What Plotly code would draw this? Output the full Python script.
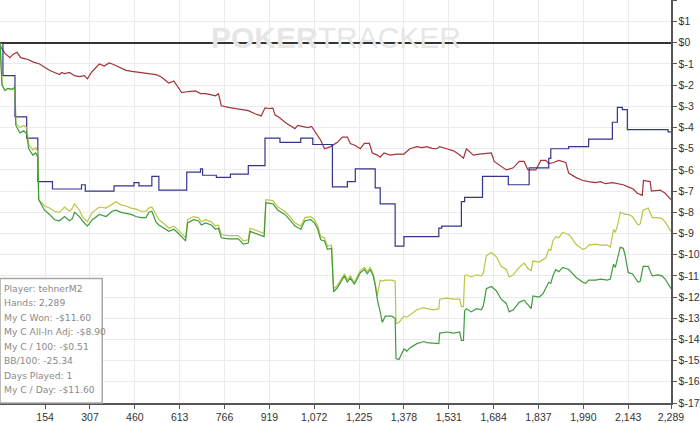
import plotly.graph_objects as go

# ---------------- data (hands, $ values) ----------------
x_ticks = [154, 307, 460, 613, 766, 919, 1072, 1225, 1378, 1531, 1684, 1837, 1990, 2143, 2289]
x_tick_labels = ["154", "307", "460", "613", "766", "919", "1,072", "1,225", "1,378",
                 "1,531", "1,684", "1,837", "1,990", "2,143", "2,289"]
y_ticks = list(range(-17, 3))
y_tick_labels = ["$" + str(v) for v in y_ticks]

# Non-showdown winnings (red)
red_hands = [0, 3, 17, 34, 44, 58, 71, 85, 98, 112, 135, 152, 169, 186, 203, 210, 220, 237, 254, 271,
             288, 298, 312, 325, 339, 356, 372, 383, 406, 430, 450, 474, 501, 532, 549, 565, 576, 593,
             609, 620, 643, 667, 684, 701, 718, 735, 745, 755, 779, 802, 826, 847, 870, 891, 904, 918,
             931, 938, 955, 972, 989, 1006, 1016, 1033, 1050, 1063, 1073, 1094, 1107, 1128, 1151, 1168,
             1185, 1195, 1212, 1229, 1243, 1260, 1270, 1287, 1297, 1310, 1331, 1354, 1378, 1398, 1422,
             1439, 1456, 1473, 1490, 1500, 1524, 1547, 1564, 1581, 1591, 1615, 1635, 1659, 1676, 1686,
             1710, 1727, 1751, 1771, 1788, 1801, 1828, 1845, 1862, 1872, 1889, 1906, 1930, 1940, 1964,
             1988, 2008, 2032, 2049, 2065, 2089, 2109, 2126, 2143, 2160, 2174, 2191, 2195, 2218, 2222,
             2242, 2252, 2269, 2289]
red_vals = [0, -0.2, -0.5, -0.7, -0.55, -0.45, -0.7, -0.75, -0.8, -0.9, -1.0, -1.15, -1.3, -1.4, -1.5,
            -1.4, -1.45, -1.4, -1.55, -1.6, -1.55, -1.7, -1.4, -1.2, -1.0, -1.1, -0.95, -1.0, -1.15, -1.3,
            -1.35, -1.4, -1.45, -1.5, -1.6, -1.8, -1.9, -1.8, -2.1, -2.35, -2.3, -2.27, -2.4, -2.4, -2.45,
            -2.5, -2.4, -2.97, -3.05, -3.1, -3.15, -3.2, -3.35, -3.45, -3.07, -3.1, -3.08, -3.4, -3.55,
            -3.75, -3.9, -4.05, -3.9, -3.95, -4.0, -3.95, -4.15, -4.6, -5.0, -4.9, -4.7, -4.45, -4.45,
            -4.75, -4.85, -5.0, -4.75, -4.75, -5.2, -5.3, -5.4, -5.2, -5.3, -5.25, -5.25, -5.0, -4.9,
            -4.95, -4.9, -4.98, -5.0, -4.9, -5.0, -5.1, -5.25, -5.45, -5.0, -5.3, -5.25, -5.2, -5.2,
            -5.6, -5.85, -6.0, -5.9, -5.6, -5.6, -6.0, -6.0, -5.55, -5.55, -5.7, -5.65, -5.55, -5.65,
            -6.15, -6.35, -6.5, -6.55, -6.6, -6.55, -6.65, -6.6, -6.65, -6.7, -6.8, -6.9, -7.1, -7.2,
            -6.5, -6.55, -7.0, -6.95, -6.95, -7.1, -7.4]

# Showdown winnings (blue, step-like)
blue_hands = [0, 10, 51, 91, 129, 179, 278, 291, 389, 457, 474, 518, 542, 637, 684, 691, 738, 786, 847,
              904, 955, 1026, 1067, 1134, 1185, 1212, 1280, 1297, 1348, 1378, 1497, 1507, 1574, 1585,
              1646, 1734, 1805, 1872, 1879, 1940, 2008, 2089, 2106, 2123, 2140, 2279, 2289]
blue_vals = [0, -1.55, -3.5, -4.5, -6.55, -6.9, -6.7, -7.0, -6.75, -6.6, -6.75, -6.3, -6.95, -6.1, -5.95,
             -6.25, -6.35, -6.2, -5.8, -4.5, -4.7, -4.5, -4.8, -6.8, -6.55, -5.95, -6.85, -7.6, -9.6,
             -9.15, -8.75, -8.65, -7.5, -7.3, -6.3, -6.7, -5.9, -5.45, -5.0, -4.9, -4.55, -3.75, -3.05,
             -3.15, -4.1, -4.2, -4.2]

# Net won (green) and all-in adjusted (yellow), read at the same hands
net_hands = [0, 7, 17, 27, 41, 51, 54, 68, 81, 91, 98, 112, 122, 129, 132, 152, 169, 186, 203, 220, 237,
             247, 254, 271, 281, 298, 315, 339, 362, 383, 396, 413, 430, 447, 464, 481, 498, 508, 518,
             532, 542, 565, 576, 593, 609, 633, 640, 660, 677, 687, 701, 721, 735, 745, 755, 779, 813,
             830, 847, 853, 870, 891, 901, 907, 931, 948, 972, 992, 1006, 1026, 1040, 1060, 1073, 1084,
             1094, 1107, 1117, 1131, 1138, 1151, 1161, 1175, 1185, 1195, 1209, 1229, 1243, 1253, 1263,
             1273, 1280, 1287, 1297, 1304, 1314, 1337, 1348, 1351, 1361, 1378, 1388, 1398, 1422, 1446,
             1456, 1480, 1497, 1500, 1524, 1547, 1568, 1574, 1581, 1585, 1591, 1608, 1625, 1642, 1649,
             1659, 1676, 1693, 1710, 1727, 1737, 1751, 1771, 1788, 1801, 1812, 1818, 1839, 1852, 1862,
             1872, 1879, 1886, 1896, 1906, 1920, 1930, 1940, 1947, 1964, 1988, 1998, 2008, 2032, 2049,
             2072, 2082, 2093, 2099, 2106, 2116, 2126, 2133, 2143, 2157, 2177, 2184, 2194, 2211, 2225,
             2245, 2258, 2269, 2289]
green_vals = [0, -2.0, -2.25, -2.15, -2.2, -2.1, -3.9, -4.25, -4.15, -4.3, -5.0, -5.3, -5.2, -5.4, -7.4,
              -7.9, -8.1, -8.35, -8.4, -8.2, -8.4, -8.3, -8.0, -8.2, -8.4, -8.65, -8.35, -8.1, -8.2,
              -7.95, -7.9, -8.0, -8.05, -8.1, -8.2, -8.25, -8.25, -8.0, -7.95, -8.45, -8.6, -8.8, -8.9,
              -8.8, -9.0, -9.35, -8.5, -8.35, -8.4, -8.6, -8.5, -8.6, -8.8, -8.75, -9.2, -9.25, -9.25,
              -9.5, -9.45, -8.9, -9.0, -9.1, -9.15, -7.55, -7.6, -7.9, -8.1, -8.4, -8.65, -8.8, -8.4,
              -8.35, -8.5, -8.8, -9.3, -9.35, -9.75, -9.7, -11.75, -11.55, -11.3, -11.0, -11.3, -11.1,
              -11.4, -10.85, -10.7, -10.9, -10.7, -11.0, -11.45, -12.1, -12.7, -13.2, -12.9, -12.9,
              -13.0, -14.9, -14.95, -14.45, -14.55, -14.4, -14.2, -14.1, -14.15, -14.2, -14.2, -13.7,
              -13.65, -13.7, -13.65, -14.05, -14.05, -12.65, -12.55, -12.7, -12.55, -12.6, -12.4,
              -11.6, -11.5, -11.7, -12.1, -12.3, -12.7, -12.6, -12.25, -12.15, -12.35, -12.55, -11.95,
              -12.0, -11.85, -11.6, -11.3, -11.35, -11.0, -10.7, -10.8, -10.6, -10.65, -10.7, -10.8,
              -11.05, -11.3, -11.35, -11.2, -11.2, -11.15, -11.2, -11.15, -10.45, -10.6, -10.2, -9.65,
              -9.7, -10.05, -10.85, -10.9, -11.3, -11.25, -10.55, -10.55, -11.0, -10.95, -11.0, -11.15,
              -11.6]
yellow_vals = [0, -2.0, -2.25, -2.15, -2.2, -2.1, -3.8, -4.0, -3.9, -4.0, -4.8, -5.05, -4.95, -5.15, -7.4,
               -7.7, -7.8, -7.95, -8.0, -7.75, -7.95, -7.8, -7.6, -7.9, -8.2, -8.45, -8.0, -7.75, -7.8,
               -7.6, -7.5, -7.65, -7.7, -7.8, -7.85, -7.95, -7.95, -7.8, -7.75, -8.1, -8.35, -8.6, -8.75,
               -8.65, -8.85, -9.2, -8.35, -8.2, -8.25, -8.45, -8.35, -8.45, -8.65, -8.6, -9.05, -9.1,
               -9.1, -9.35, -9.3, -8.75, -8.85, -8.95, -9.0, -7.4, -7.45, -7.75, -7.95, -8.25, -8.5,
               -8.65, -8.25, -8.2, -8.35, -8.65, -9.15, -9.2, -9.6, -9.55, -11.6, -11.45, -11.2, -10.9,
               -11.2, -11.0, -11.3, -10.75, -10.6, -10.8, -10.6, -10.9, -11.35, -11.95, -11.2, -11.25,
               -11.2, -11.2, -11.25, -13.25, -13.2, -12.9, -12.95, -12.85, -12.6, -12.5, -12.55, -12.6,
               -12.55, -12.1, -12.05, -12.1, -12.1, -12.45, -12.45, -11.0, -10.95, -11.05, -10.95,
               -11.0, -10.85, -10.05, -9.9, -10.1, -10.55, -10.7, -11.05, -10.95, -10.6, -10.4, -10.65,
               -10.75, -10.3, -10.35, -10.25, -10.15, -9.75, -9.8, -9.35, -9.15, -9.2, -8.95, -9.0,
               -9.05, -9.15, -9.5, -9.75, -9.7, -9.55, -9.5, -9.55, -9.55, -9.65, -8.8, -8.95, -8.65,
               -8.0, -8.05, -8.1, -8.1, -8.2, -8.6, -8.55, -7.9, -7.8, -8.25, -8.25, -8.3, -8.45, -8.9]

stats_lines = ["Player: tehnerM2", "Hands: 2,289", "My C Won: -$11.60", "My C All-In Adj: -$8.90",
               "My C / 100: -$0.51", "BB/100: -25.34", "Days Played: 1", "My C / Day: -$11.60"]

# ---------------- figure ----------------
W, H = 700, 423
ML, MR, MT, MB = 0, 24, 0, 18
plot_h = H - MT - MB

fig = go.Figure()
fig.add_trace(go.Scatter(x=red_hands, y=red_vals, mode="lines",
                         line=dict(color="#a4343a", width=1.2), hoverinfo="skip"))
fig.add_trace(go.Scatter(x=blue_hands, y=blue_vals, mode="lines", line_shape="hv",
                         line=dict(color="#34348f", width=1.2), hoverinfo="skip"))
fig.add_trace(go.Scatter(x=net_hands, y=yellow_vals, mode="lines",
                         line=dict(color="#bcc444", width=1.2), hoverinfo="skip"))
fig.add_trace(go.Scatter(x=net_hands, y=green_vals, mode="lines",
                         line=dict(color="#3c9c3c", width=1.2), hoverinfo="skip"))

font_family = "Liberation Sans, Arial, sans-serif"

fig.update_layout(
    width=W, height=H,
    margin=dict(l=ML, r=MR, t=MT, b=MB, pad=0),
    paper_bgcolor="white", plot_bgcolor="white",
    showlegend=False,
    font=dict(family=font_family, size=11, color="#333333"),
    xaxis=dict(range=[0, 2289], tickvals=x_ticks, ticktext=x_tick_labels,
               showgrid=True, gridcolor="#ebebeb", gridwidth=1,
               showline=True, linecolor="#555555", linewidth=1.5,
               ticks="outside", ticklen=4, tickcolor="#555555",
               zeroline=False, tickfont=dict(size=10.5, color="#333333"), fixedrange=True),
    yaxis=dict(range=[-17, 2.02], side="right", tickvals=y_ticks, ticktext=y_tick_labels,
               showgrid=True, gridcolor="#ebebeb", gridwidth=1,
               showline=True, linecolor="#555555", linewidth=1.5,
               ticks="outside", ticklen=4, tickcolor="#555555",
               zeroline=True, zerolinecolor="#333333", zerolinewidth=1.5,
               tickfont=dict(size=10.5, color="#333333"), fixedrange=True),
)

# watermark
fig.add_annotation(xref="paper", yref="paper", x=339 / 676, y=1 - 38 / plot_h,
                   text="<b>POKER</b>TRACKER", showarrow=False, xanchor="center", yanchor="middle",
                   font=dict(family="Liberation Sans Narrow, Liberation Sans, Arial", size=30,
                             color="#e6e6e6"))

# stats box
box_top = 280
fig.add_shape(type="rect", xref="paper", yref="paper", x0=0.0, x1=103 / 676,
              y0=0, y1=1 - box_top / plot_h,
              line=dict(color="#a8a8a8", width=1.5), fillcolor="white", layer="above")
for i, t in enumerate(stats_lines):
    yc = 290 + i * 14.5
    fig.add_annotation(xref="paper", yref="paper", x=2 / 676, y=1 - yc / plot_h,
                       text=t, showarrow=False, xanchor="left", yanchor="middle",
                       font=dict(family="DejaVu Sans, sans-serif", size=9.2, color="#8a8a8a"))

fig.write_html("out.html", config={"displayModeBar": False, "staticPlot": True},
               post_script="document.body.style.margin='0';document.body.style.overflow='hidden';")
